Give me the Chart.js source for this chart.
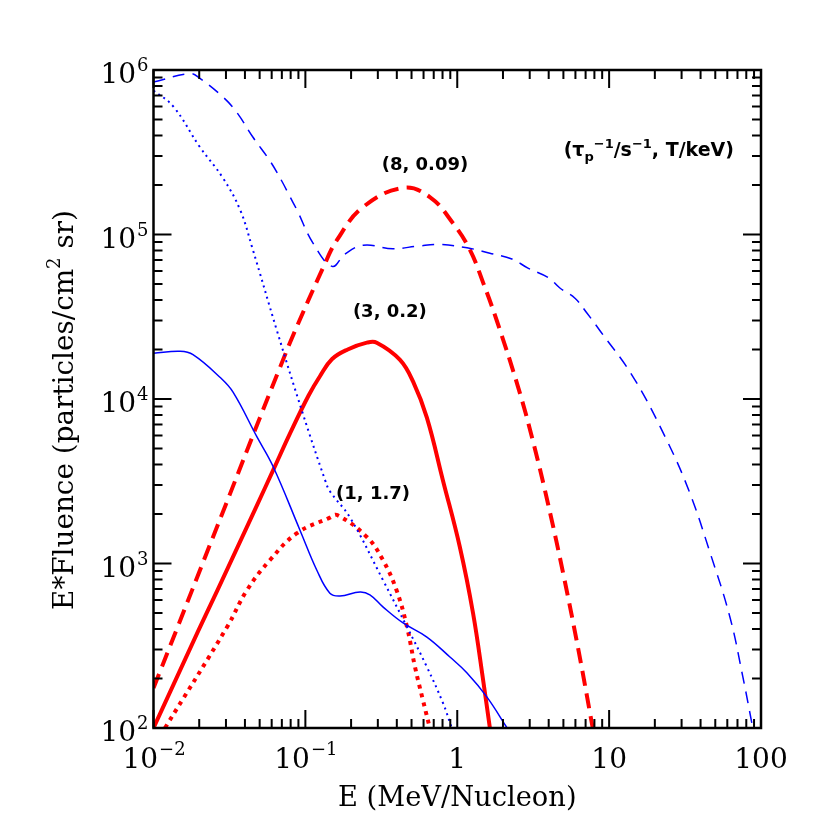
<!DOCTYPE html>
<html>
<head>
<meta charset="utf-8">
<script src="https://cdn.jsdelivr.net/npm/chart.js@4"></script>
<style>
html,body{margin:0;padding:0;background:#fff;}
#wrap{width:830px;height:830px;position:relative;}
</style>
</head>
<body>
<div id="wrap"><canvas id="c"></canvas></div>
<script>
// ---- data (E in MeV/nucleon, Y = E*Fluence) ----
const blueDashedE = [0.01,0.0174,0.0202,0.0287,0.0355,0.0452,0.0585,0.0702,0.0793,0.088,0.112,0.15,0.182,0.24,0.377,0.55,0.77,1.16,1.64,2.29,2.92,4.0,4.74,5.96,7.14,8.71,14.4,24,33.9,45.7,62.4,75.9,88.3];
const blueDashedY = [8.45e5,9.5e5,8.9e5,6.85e5,5.5e5,3.9e5,2.8e5,2.1e5,1.69e5,1.41e5,8.9e4,6.4e4,7.6e4,8.6e4,8.2e4,8.5e4,8.7e4,8.3e4,7.7e4,7.1e4,6.25e4,5.45e4,4.73e4,4.1e4,3.33e4,2.6e4,1.36e4,5.6e3,2.7e3,1.2e3,473,205,100];

const blueDottedE = [0.01,0.0135,0.0202,0.0287,0.0372,0.0447,0.065,0.096,0.135,0.145,0.197,0.324,0.467,0.631,0.805,0.92];
const blueDottedY = [7.5e5,6.0e5,3.4e5,2.2e5,1.41e5,8.3e4,2.6e4,8.2e3,3.2e3,2.75e3,1.9e3,794,411,235,142,100];

const blueSolidE = [0.01,0.015,0.0182,0.0275,0.0334,0.0479,0.0612,0.092,0.119,0.145,0.169,0.229,0.266,0.324,0.44,0.631,0.895,1.16,1.57,2.13];
const blueSolidY = [1.9e4,1.95e4,1.86e4,1.35e4,1.1e4,5.9e3,3.9e3,1.6e3,910,660,635,671,645,545,435,357,270,216,154,100];

const redSolidE = [0.01,0.0196,0.0262,0.0355,0.0479,0.0617,0.0794,0.105,0.125,0.15,0.19,0.254,0.295,0.42,0.513,0.631,0.805,1.04,1.27,1.48,1.64];
const redSolidY = [100,385,680,1.24e3,2.25e3,3.73e3,6.2e3,1.05e4,1.38e4,1.75e4,2.0e4,2.2e4,2.2e4,1.73e4,1.27e4,7.7e3,3.2e3,1.26e3,500,196,100];

const redDashedE = [0.01,0.0145,0.0225,0.0319,0.0479,0.068,0.0832,0.131,0.162,0.24,0.44,0.66,0.938,1.21,1.48,1.82,2.51,3.16,3.98,5.01,6.31,7.8];
const redDashedY = [175,417,1.17e3,2.65e3,6.9e3,1.55e4,2.45e4,6.3e4,9.3e4,1.47e5,1.92e5,1.69e5,1.17e5,8.1e4,5.1e4,3.0e4,1.19e4,5.5e3,2.26e3,850,291,100];

const redDottedE = [0.0119,0.0305,0.0413,0.0585,0.0881,0.145,0.162,0.254,0.324,0.398,0.467,0.527,0.594,0.66];
const redDottedY = [100,411,690,1.05e3,1.53e3,1.9e3,1.97e3,1.45e3,1.05e3,690,411,235,148,100];

const xMajorTicks = [0.01,0.1,1,10,100];
const xTickLabels = [["10","−2"],["10","−1"],["1",""],["10",""],["100",""]];
const yMajorTicks = [1e2,1e3,1e4,1e5,1e6];
const yTickLabels = [["10","2"],["10","3"],["10","4"],["10","5"],["10","6"]];

const xTitle = "E (MeV/Nucleon)";
const yTitle = "E*Fluence (particles/cm";
const yTitleSup = "2";
const yTitleEnd = " sr)";
const annotationTexts = ["(8, 0.09)", "(3, 0.2)", "(1, 1.7)"];
// text anchor positions in data coordinates (centre x, baseline y)
const annotationAt = [[0.613, 2.47e5], [0.36, 3.15e4], [0.279, 2.47e3]];

function pts(E, Y){ return E.map((e,i)=>({x:e, y:Y[i]})); }

const frameTicks = {
  id:'frameTicks',
  afterDraw(chart){
    const ctx = chart.ctx, a = chart.chartArea;
    const xs = chart.scales.x, ys = chart.scales.y;
    ctx.save();
    ctx.strokeStyle = '#000';
    ctx.fillStyle = '#000';
    ctx.lineWidth = 2;
    ctx.lineCap = 'butt';
    for (let d=-2; d<=2; d++){
      for (let m=1; m<=9; m++){
        const v = m*Math.pow(10,d);
        if (v > 100*1.0001) break;
        const px = xs.getPixelForValue(v);
        const L = (m===1)?18:9;
        ctx.beginPath();
        ctx.moveTo(px, a.bottom); ctx.lineTo(px, a.bottom-L);
        ctx.moveTo(px, a.top); ctx.lineTo(px, a.top+L);
        ctx.stroke();
      }
    }
    for (let d=2; d<=6; d++){
      for (let m=1; m<=9; m++){
        const v = m*Math.pow(10,d);
        if (v > 1e6*1.0001) break;
        const py = ys.getPixelForValue(v);
        const L = (m===1)?18:9;
        ctx.beginPath();
        ctx.moveTo(a.left, py); ctx.lineTo(a.left+L, py);
        ctx.moveTo(a.right, py); ctx.lineTo(a.right-L, py);
        ctx.stroke();
      }
    }
    ctx.lineWidth = 2.5;
    ctx.strokeRect(a.left, a.top, a.right-a.left, a.bottom-a.top);

    const baseFont = '28px "DejaVu Serif"';
    const expFont = '18px "DejaVu Serif"';
    ctx.textBaseline = 'alphabetic';
    xMajorTicks.forEach((v,i)=>{
      const [b,e] = xTickLabels[i];
      ctx.font = baseFont; const wb = ctx.measureText(b).width;
      ctx.font = expFont; const we = e ? ctx.measureText(e).width : 0;
      const px = xs.getPixelForValue(v);
      const x0 = px - (wb+we)/2;
      const by = a.bottom + 40;
      ctx.font = baseFont; ctx.textAlign='left'; ctx.fillText(b, x0, by);
      if (e){ ctx.font = expFont; ctx.fillText(e, x0+wb+1, by-13); }
    });
    yMajorTicks.forEach((v,i)=>{
      const [b,e] = yTickLabels[i];
      ctx.font = baseFont; const wb = ctx.measureText(b).width;
      ctx.font = expFont; const we = ctx.measureText(e).width;
      const py = ys.getPixelForValue(v);
      const xr = a.left - 5;
      const by = py + 13;
      ctx.textAlign='left';
      ctx.font = baseFont; ctx.fillText(b, xr-we-1-wb, by);
      ctx.font = expFont; ctx.fillText(e, xr-we, by-12);
    });

    ctx.textAlign='center';
    let fs = 25;
    ctx.font = fs+'px "DejaVu Serif"';
    let w = ctx.measureText(xTitle).width;
    fs = fs*239/w;
    ctx.font = fs.toFixed(1)+'px "DejaVu Serif"';
    ctx.fillText(xTitle, (a.left+a.right)/2, 806);

    ctx.save();
    ctx.translate(73, 410);
    ctx.rotate(-Math.PI/2);
    let yfs = 25;
    const measureY = (s)=>{
      ctx.font = s+'px "DejaVu Serif"'; const w1 = ctx.measureText(yTitle).width;
      const w3 = ctx.measureText(yTitleEnd).width;
      ctx.font = (s*0.65)+'px "DejaVu Serif"'; const w2 = ctx.measureText(yTitleSup).width;
      return [w1,w2,w3];
    };
    let ws = measureY(yfs);
    yfs = yfs*400/(ws[0]+ws[1]+ws[2]);
    ws = measureY(yfs);
    const tot = ws[0]+ws[1]+ws[2];
    let sx = -tot/2;
    ctx.textAlign='left';
    ctx.font = yfs+'px "DejaVu Serif"'; ctx.fillText(yTitle, sx, 0); sx += ws[0];
    ctx.font = (yfs*0.65)+'px "DejaVu Serif"'; ctx.fillText(yTitleSup, sx, -yfs*0.45); sx += ws[1];
    ctx.font = yfs+'px "DejaVu Serif"'; ctx.fillText(yTitleEnd, sx, 0);
    ctx.restore();

    ctx.font = 'bold 18px "DejaVu Sans"';
    ctx.textAlign='center';
    annotationTexts.forEach((t,i)=>{
      const px = xs.getPixelForValue(annotationAt[i][0]);
      const py = ys.getPixelForValue(annotationAt[i][1]);
      ctx.fillText(t, px, py);
    });

    const parts = [
      {t:"(τ", f:'bold 19px "DejaVu Sans"', dy:0},
      {t:"p", f:'bold 13px "DejaVu Sans"', dy:5},
      {t:"−1", f:'bold 13px "DejaVu Sans"', dy:-8},
      {t:"/s", f:'bold 19px "DejaVu Sans"', dy:0},
      {t:"−1", f:'bold 13px "DejaVu Sans"', dy:-8},
      {t:", T/keV)", f:'bold 19px "DejaVu Sans"', dy:0}
    ];
    ctx.textAlign='left';
    let total = 0;
    parts.forEach(p=>{ ctx.font=p.f; p.w = ctx.measureText(p.t).width; total += p.w; });
    let lx = 734 - total;
    const lby = 156;
    parts.forEach(p=>{ ctx.font=p.f; ctx.fillText(p.t, lx, lby+p.dy); lx += p.w; });
    ctx.restore();
  }
};

const common = {showLine:true, pointRadius:0, fill:false, tension:0.4, cubicInterpolationMode:'default'};

new Chart(document.getElementById('c'), {
  type:'scatter',
  data:{
    datasets:[
      {...common, label:'blue dashed', data:pts(blueDashedE, blueDashedY), borderColor:'#0000ff', borderWidth:1.5, borderDash:[12,8]},
      {...common, label:'blue dotted', data:pts(blueDottedE, blueDottedY), borderColor:'#0000ff', borderWidth:2, borderDash:[2,4]},
      {...common, label:'blue solid', data:pts(blueSolidE, blueSolidY), borderColor:'#0000ff', borderWidth:1.5},
      {...common, label:'red dashed (8, 0.09)', data:pts(redDashedE, redDashedY), borderColor:'#ff0000', borderWidth:4, borderDash:[15,8]},
      {...common, label:'red solid (3, 0.2)', data:pts(redSolidE, redSolidY), borderColor:'#ff0000', borderWidth:4},
      {...common, label:'red dotted (1, 1.7)', data:pts(redDottedE, redDottedY), borderColor:'#ff0000', borderWidth:4, borderDash:[4,5]}
    ]
  },
  options:{
    responsive:true,
    maintainAspectRatio:false,
    animation:false,
    layout:{padding:{left:153.5, right:69, top:70, bottom:102}},
    plugins:{legend:{display:false}, tooltip:{enabled:false}},
    scales:{
      x:{type:'logarithmic', min:0.01, max:100, display:false},
      y:{type:'logarithmic', min:100, max:1e6, display:false}
    }
  },
  plugins:[frameTicks]
});
</script>
</body>
</html>
